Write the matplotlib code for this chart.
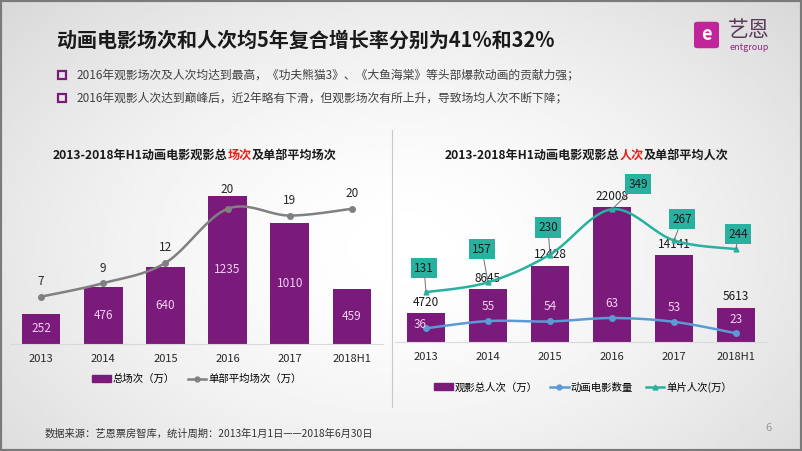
import numpy as np
import matplotlib
matplotlib.use('Agg')
import matplotlib.pyplot as plt
from matplotlib.patches import Rectangle, FancyBboxPatch
from matplotlib.lines import Line2D

plt.rcParams['font.family'] = ['Noto Sans CJK SC', 'DejaVu Sans']

# data
years = ['2013', '2014', '2015', '2016', '2017', '2018H1']
total_shows = [252, 476, 640, 1235, 1010, 459]          # 总场次（万）
avg_shows = [7, 9, 12, 20, 19, 20]                       # 单部平均场次（万）
total_admissions = [4720, 8645, 12428, 22008, 14141, 5613]  # 观影总人次（万）
film_count = [36, 55, 54, 63, 53, 23]                    # 动画电影数量
avg_admissions = [131, 157, 230, 349, 267, 244]          # 单片人次（万）

PURPLE = '#7a1a7a'
GRAY = '#808080'
BLUE = '#5b9bd5'
TEAL = '#27b2a0'
PINK = '#f3d2f3'

W, H = 802, 451


def smooth(xs, ys, n=24):
    # bezier smoothing like an office "smoothed line"
    p = np.column_stack([xs, ys]).astype(float)
    p = np.vstack([p[0], p, p[-1]])
    out = []
    for i in range(1, len(p) - 2):
        p0, p1, p2, p3 = p[i - 1], p[i], p[i + 1], p[i + 2]
        c1 = p1 + (p2 - p0) / 6
        c2 = p2 - (p3 - p1) / 6
        t = np.linspace(0, 1, n)[:, None]
        seg = ((1 - t) ** 3) * p1 + 3 * ((1 - t) ** 2) * t * c1 + 3 * (1 - t) * t ** 2 * c2 + t ** 3 * p2
        out.append(seg if i == 1 else seg[1:])
    out = np.vstack(out)
    return out[:, 0], out[:, 1]


def fx(px):
    return px / W


def fy(py):
    return 1 - py / H


fig = plt.figure(figsize=(8.02, 4.51), dpi=100)

# background gradient
bg = fig.add_axes([0, 0, 1, 1])
yy, xx = np.mgrid[0:1:200j, 0:1:350j]
r = np.sqrt(((xx - 0.5) / 0.75) ** 2 + ((yy - 0.55) / 0.9) ** 2)
bg.imshow(1 - 0.18 * np.clip(r, 0, 1) ** 1.6, cmap='gray', vmin=0, vmax=1,
          extent=[0, 1, 0, 1], aspect='auto')
bg.set_xlim(0, 1)
bg.set_ylim(0, 1)
bg.axis('off')
fig.add_artist(Rectangle((0, 0), 1, 1, transform=fig.transFigure, fill=False,
                         edgecolor='#7a7a7a', linewidth=3))

# header
fig.text(fx(57), fy(40), '动画电影场次和人次均5年复合增长率分别为41%和32%',
         fontsize=14.4, fontweight='bold', color='#1a1a1a', va='center')
bullets = ['2016年观影场次及人次均达到最高，《功夫熊猫3》、《大鱼海棠》等头部爆款动画的贡献力强；',
           '2016年观影人次达到巅峰后，近2年略有下滑，但观影场次有所上升，导致场均人次不断下降；']
for i, b in enumerate(bullets):
    yb = 75 + i * 23
    fig.add_artist(Rectangle((fx(58), fy(yb + 4)), 8 / W, 8 / H, transform=fig.transFigure,
                             fill=False, edgecolor=PURPLE, linewidth=1.6))
    fig.text(fx(76), fy(yb), b, fontsize=8.5, color='#404040', va='center')

# logo
fig.add_artist(FancyBboxPatch((fx(698), fy(46)), 17 / W, 22 / H, transform=fig.transFigure,
                              boxstyle='round,pad=0.005', facecolor='#c0259a', edgecolor='none'))
fig.text(fx(706.5), fy(35), 'e', fontsize=13, fontweight='bold', color='white', ha='center', va='center')
fig.text(fx(749), fy(30), '艺恩', fontsize=15, color='#5a3a5a', ha='center', va='center')
fig.text(fx(749), fy(47), 'entgroup', fontsize=6.5, color='#8a2a80', ha='center', va='center')

# footer
fig.text(fx(45), fy(434), '数据来源：艺恩票房智库，统计周期：2013年1月1日——2018年6月30日',
         fontsize=7.4, color='#333333', va='center')
fig.text(fx(765), fy(428), '6', fontsize=8, color='#999999', va='center')
fig.add_artist(Line2D([fx(392), fx(392)], [fy(130), fy(407)], transform=fig.transFigure,
                      color='#c8c8c8', linewidth=0.8))


def color_title(xc, y, parts):
    ts = [fig.text(0, fy(y), s, color=c, fontsize=8.7, fontweight='bold', va='center') for s, c in parts]
    rend = fig.canvas.get_renderer()
    widths = [t.get_window_extent(rend).width for t in ts]
    x = xc - sum(widths) / 2
    for t, w in zip(ts, widths):
        t.set_x(fx(x))
        x += w


color_title(195, 155, [('2013-2018年H1动画电影观影总', '#1a1a1a'), ('场次', '#e8201c'),
                       ('及单部平均场次', '#1a1a1a')])
color_title(587, 155, [('2013-2018年H1动画电影观影总', '#1a1a1a'), ('人次', '#e8201c'),
                       ('及单部平均人次', '#1a1a1a')])

x = np.arange(len(years))


def style(ax):
    ax.set_facecolor('none')
    for s in ['top', 'right', 'left']:
        ax.spines[s].set_visible(False)
    ax.spines['bottom'].set_color('#d9d9d9')
    ax.set_yticks([])
    ax.set_xticks(x)
    ax.set_xticklabels(years, fontsize=8, color='#262626')
    ax.tick_params(axis='x', length=0, pad=7)
    ax.set_xlim(-0.5, 5.5)


# left chart
ax1 = fig.add_axes([fx(10), fy(344), fx(383) - fx(10), fy(175) - fy(344)])
style(ax1)
ax1.set_ylim(0, 1408)
ax1.bar(x, total_shows, width=0.62, color=PURPLE, zorder=2)
for xi, v in zip(x, total_shows):
    ax1.text(xi, v / 2, str(v), ha='center', va='center', fontsize=8.5, color=PINK, zorder=5)
ax1b = ax1.twinx()
ax1b.set_ylim(0, 25)
ax1b.axis('off')
sx, sy = smooth(x, avg_shows)
ax1b.plot(sx, sy, color=GRAY, linewidth=1.8, zorder=3)
ax1b.plot(x, avg_shows, 'o', color=GRAY, markersize=4, zorder=4)
for xi, v in zip(x, avg_shows):
    ax1b.annotate(str(v), (xi, v), xytext=(0, 15 + (4 if v == 20 and xi == 3 else 0)),
                  textcoords='offset pixels', ha='center', va='center', fontsize=8.5, color='#262626')
h1 = [Rectangle((0, 0), 1, 1, color=PURPLE),
      Line2D([], [], color=GRAY, marker='o', markersize=3.5, linewidth=1.8)]
fig.legend(h1, ['总场次（万）', '单部平均场次（万）'], loc='center', bbox_to_anchor=(fx(197), fy(379)),
           ncol=2, frameon=False, fontsize=7.5, handlelength=1.8, handleheight=0.6,
           columnspacing=1.2, handletextpad=0.2)

# right chart
ax2 = fig.add_axes([fx(395), fy(342), fx(767) - fx(395), fy(175) - fy(342)])
style(ax2)
ax2.set_ylim(0, 27240)
ax2.bar(x, total_admissions, width=0.62, color=PURPLE, zorder=2)
for xi, v in zip(x, total_admissions):
    ax2.annotate(str(v), (xi, v), xytext=(0, 11), textcoords='offset pixels',
                 ha='center', va='center', fontsize=8.5, color='#1a1a1a')
ax2b = ax2.twinx()
ax2b.set_ylim(0, 439)
ax2b.axis('off')
sx, sy = smooth(x, film_count)
ax2b.plot(sx, sy, color=BLUE, linewidth=1.8, zorder=3)
ax2b.plot(x, film_count, 'o', color=BLUE, markersize=4, zorder=4)
count_off = [(-6, 4), (0, 15), (0, 15), (0, 15), (0, 14), (0, 14)]
for xi, v, o in zip(x, film_count, count_off):
    ax2b.annotate(str(v), (xi, v), xytext=o, textcoords='offset pixels',
                  ha='center', va='center', fontsize=8.5, color=PINK, zorder=6)
sx, sy = smooth(x, avg_admissions)
ax2b.plot(sx, sy, color=TEAL, linewidth=1.8, zorder=3)
ax2b.plot(x, avg_admissions, '^', color=TEAL, markersize=3.5, zorder=4)
box_off = [(-2, 24), (-6, 33), (-2, 27), (26, 25), (8, 21), (2, 15)]
for xi, v, o in zip(x, avg_admissions, box_off):
    ax2b.annotate(str(v), (xi, v), xytext=o, textcoords='offset pixels',
                  ha='center', va='center', fontsize=8.5, color='#1a1a1a', zorder=7,
                  bbox=dict(boxstyle='square,pad=0.3', facecolor=TEAL, edgecolor='none'),
                  arrowprops=dict(arrowstyle='-', color='#707070', linewidth=0.7, shrinkA=0, shrinkB=0))
h2 = [Rectangle((0, 0), 1, 1, color=PURPLE),
      Line2D([], [], color=BLUE, marker='o', markersize=3.5, linewidth=1.8),
      Line2D([], [], color=TEAL, marker='^', markersize=3.5, linewidth=1.8)]
fig.legend(h2, ['观影总人次（万）', '动画电影数量', '单片人次(万）'], loc='center',
           bbox_to_anchor=(fx(583), fy(387)), ncol=3, frameon=False, fontsize=7.5,
           handlelength=1.8, handleheight=0.6, columnspacing=1.2, handletextpad=0.2)

fig.savefig('out.png', dpi=100)
